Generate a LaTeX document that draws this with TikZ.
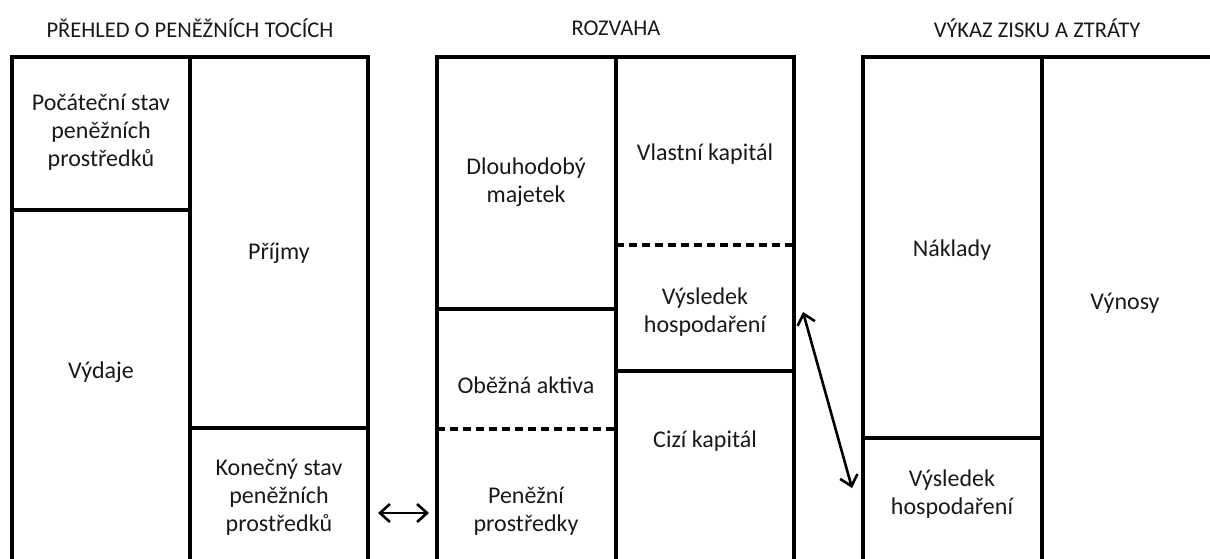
\documentclass[tikz,border=0pt]{standalone}
\usepackage{fontspec}
\setmainfont{Carlito}
\usetikzlibrary{arrows.meta}
\begin{document}
\begin{tikzpicture}[x=1pt,y=-1pt,
  frame/.style={line width=3.4pt, line cap=rect},
  inner/.style={line width=3.2pt},
  dline/.style={line width=3.2pt, dash pattern=on 8pt off 5pt},
  lbl/.style={align=center, font=\fontsize{24}{28}\selectfont, text=black!90, inner sep=0pt},
  ttl/.style={font=\fontsize{22.5}{26}\selectfont, text=black!90, inner sep=0pt},
  dbl/.style={line width=2.6pt, {Straight Barb[length=10pt,width=18pt,line width=2.6pt]}-{Straight Barb[length=10pt,width=18pt,line width=2.6pt]}}
]
\useasboundingbox (0,0) rectangle (1210,558);
% titles
\node[ttl] (t1) at (190,28) {PŘEHLED O PENĚŽNÍCH TOCÍCH};
\node[ttl] (t2) at (616,28) {ROZVAHA};
\node[ttl] (t3) at (1037,28) {VÝKAZ ZISKU A ZTRÁTY};
% left panel
\draw[frame] (12,562) -- (12,57) -- (368,57) -- (368,562);
\draw[frame] (190,57) -- (190,562);
\draw[inner] (12,210) -- (190,210);
\draw[inner] (190,428) -- (368,428);
% middle panel
\draw[frame] (437,562) -- (437,57) -- (794,57) -- (794,562);
\draw[frame] (616,57) -- (616,562);
\draw[inner] (437,309) -- (616,309);
\draw[dline] (437,429) -- (616,429);
\draw[dline] (616,245) -- (794,245);
\draw[inner] (616,371) -- (794,371);
% right panel
\draw[frame] (863,562) -- (863,57) -- (1214,57);
\draw[frame] (1042,57) -- (1042,562);
\draw[inner] (863,438) -- (1042,438);
% labels
\node[lbl] (pocatek) at (101,132) {Počáteční stav\\peněžních\\prostředků};
\node[lbl] (prijmy) at (279,253) {Příjmy};
\node[lbl] (vydaje) at (101,372) {Výdaje};
\node[lbl] (konec) at (279,497) {Konečný stav\\peněžních\\prostředků};
\node[lbl] (dlouho) at (526,182) {Dlouhodobý\\majetek};
\node[lbl] (vlastni) at (705,154) {Vlastní kapitál};
\node[lbl] (vysl1) at (705,312) {Výsledek\\hospodaření};
\node[lbl] (obezna) at (526,385) {Oběžná aktiva};
\node[lbl] (penize) at (526,511) {Peněžní\\prostředky};
\node[lbl] (cizi) at (705,441) {Cizí kapitál};
\node[lbl] (naklady) at (952,250) {Náklady};
\node[lbl] (vynosy) at (1125,303) {Výnosy};
\node[lbl] (vysl2) at (952,494) {Výsledek\\hospodaření};
% arrows
\coordinate (a1) at (378,513);
\coordinate (a2) at (429,513);
\coordinate (b1) at (803,312);
\coordinate (b2) at (852,488);
\draw[dbl] (a1) -- (a2);
\draw[dbl] (b1) -- (b2);
\end{tikzpicture}
\end{document}
